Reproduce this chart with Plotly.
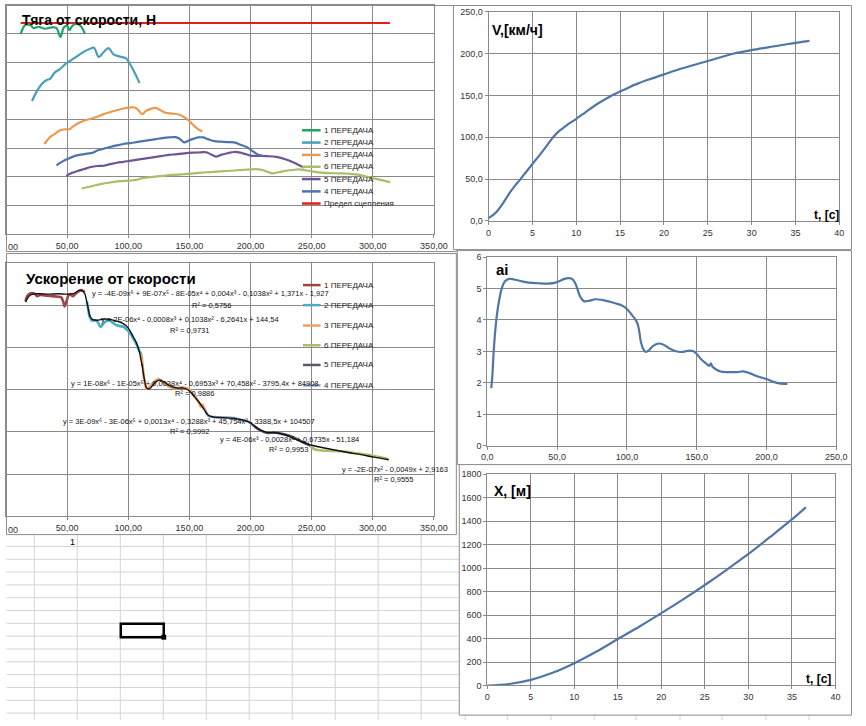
import plotly.graph_objects as go

W, H = 866, 726
FONT = "Liberation Sans"

# ---------------- Chart 1: Тяга от скорости, Н ----------------
grip_v = [12.0, 314.0]
grip_f = [7370, 7370]

f_v1 = [12.0, 16.0, 20.0, 22.6, 26.6, 32.0, 37.3, 41.3, 44.5, 47.4, 50.1, 51.9, 54.6, 58.1, 61.3, 64.5]
f_n1 = [6990, 7310, 7290, 7195, 7240, 7170, 7220, 7195, 6885, 7220, 7265, 7125, 7285, 7335, 7255, 6990]

f_v2 = [21.3, 25.3, 29.3, 33.3, 36.0, 40.0, 44.0, 49.3, 53.3, 58.6, 63.9, 67.9, 71.9, 75.9, 79.9, 83.9,
        87.9, 93.2, 98.0, 101.2, 104.4, 107.1, 109.2]
f_n2 = [4645, 4990, 5240, 5380, 5415, 5645, 5760, 5955, 6070, 6220, 6370, 6450, 6505, 6185, 6355, 6495,
        6275, 6195, 6140, 5955, 5700, 5470, 5275]

f_v3 = [31.4, 36.0, 40.0, 44.0, 47.9, 51.9, 54.6, 58.6, 63.9, 69.3, 74.6, 79.9, 85.2, 90.6, 95.9, 101.2,
        105.2, 107.9, 111.3, 114.5, 118.5, 122.5, 126.5, 130.5, 135.9, 141.2, 145.2, 149.2, 153.2, 157.2, 160.6]
f_n3 = [3140, 3380, 3495, 3610, 3655, 3655, 3745, 3860, 3955, 4025, 4090, 4185, 4255, 4320, 4380, 4415,
        4415, 4345, 4185, 4300, 4370, 4400, 4320, 4230, 4205, 4170, 4090, 3975, 3805, 3655, 3575]

f_v4 = [41.3, 45.3, 50.6, 55.9, 61.3, 66.6, 70.6, 74.6, 79.9, 85.2, 90.6, 95.9, 101.2, 106.6, 111.9, 117.2,
        122.5, 127.9, 133.2, 138.5, 141.7, 145.7, 149.2, 153.2, 157.2, 161.2, 165.2, 170.5, 175.8, 181.1,
        186.5, 191.8, 197.1, 201.1, 205.1, 210.4]
f_n4 = [2390, 2505, 2620, 2715, 2770, 2805, 2830, 2910, 2975, 3035, 3090, 3140, 3170, 3205, 3240, 3275,
        3310, 3345, 3370, 3380, 3335, 3195, 3255, 3320, 3370, 3370, 3310, 3240, 3220, 3205,
        3195, 3115, 3025, 2910, 2795, 2715]

f_v5 = [49.3, 53.3, 58.6, 63.9, 69.3, 74.6, 79.9, 85.2, 90.6, 95.9, 101.2, 106.6, 111.9, 117.2, 122.5,
        127.9, 133.2, 138.5, 143.8, 149.2, 154.5, 159.8, 163.8, 167.8, 171.8, 175.8, 181.1, 186.5, 190.5,
        194.5, 199.8, 206.4, 213.1, 221.1, 229.1, 235.7, 241.1, 243.7]
f_n5 = [2025, 2115, 2195, 2265, 2335, 2370, 2380, 2435, 2485, 2515, 2550, 2585, 2620, 2655, 2690,
        2725, 2760, 2780, 2805, 2830, 2840, 2850, 2850, 2770, 2700, 2760, 2815, 2860, 2850,
        2805, 2735, 2725, 2715, 2690, 2600, 2485, 2370, 2320]

f_v6 = [61.8, 69.3, 77.3, 85.2, 93.2, 101.2, 106.6, 111.9, 119.9, 127.9, 135.9, 143.8, 151.8, 159.8,
        167.8, 175.8, 183.8, 191.8, 199.8, 206.4, 210.4, 214.4, 218.4, 223.8, 229.1, 234.4, 239.7, 245.1,
        250.4, 255.7, 263.7, 271.7, 279.7, 287.7, 295.7, 303.7, 314.3]
f_n6 = [1585, 1655, 1735, 1795, 1840, 1860, 1885, 1945, 1990, 2025, 2060, 2080, 2105, 2140,
        2160, 2185, 2205, 2230, 2255, 2255, 2220, 2160, 2115, 2160, 2205, 2230, 2255, 2220,
        2185, 2150, 2125, 2115, 2105, 2070, 1990, 1910, 1805]

# ---------------- Chart 2: Ускорение от скорости ----------------
a_v1 = [16.0, 17.3, 20.0, 24.0, 25.3, 28.0, 32.0, 37.3, 42.6, 45.3, 46.9, 47.9, 49.5, 51.1, 52.7, 54.6,
        56.5, 59.1, 61.8, 64.5]
a_a1 = [5.10, 5.22, 5.29, 5.27, 5.22, 5.25, 5.24, 5.22, 5.21, 5.19, 5.08, 4.98, 5.10, 5.24, 5.27, 5.22,
        5.27, 5.33, 5.37, 5.32]

a_v2 = [66.1, 67.1, 68.7, 70.6, 73.3, 75.4, 77.3, 79.4, 82.0, 84.7, 87.4, 90.6, 93.8, 96.4, 99.1, 101.8,
        104.4, 107.1, 109.2, 110.8]
a_a2 = [5.10, 4.94, 4.71, 4.64, 4.65, 4.59, 4.49, 4.56, 4.63, 4.64, 4.59, 4.53, 4.51, 4.49, 4.42, 4.33,
        4.20, 4.06, 3.92, 3.84]

a_v3 = [110.8, 111.9, 113.2, 115.1, 117.2, 119.9, 122.5, 125.2, 127.9, 130.5, 133.2, 136.4, 139.8, 143.8,
        147.0, 149.7, 152.4, 155.0, 157.7, 159.3, 160.6, 162.0, 163.0]
a_a3 = [3.84, 3.53, 3.22, 3.02, 3.06, 3.15, 3.22, 3.25, 3.19, 3.14, 3.08, 3.04, 3.04, 3.06,
        3.04, 3.00, 2.92, 2.81, 2.71, 2.60, 2.65, 2.57, 2.51]

a_v4 = [163.0, 165.7, 170.5, 178.5, 186.5, 193.1, 198.5, 202.4]
a_a4 = [2.51, 2.38, 2.35, 2.34, 2.33, 2.27, 2.24, 2.15]

a_v5 = [202.4, 207.8, 213.1, 221.1, 229.1, 235.7, 242.4, 249.1]
a_a5 = [2.15, 2.04, 1.98, 1.98, 1.93, 1.86, 1.76, 1.67]

a_v6 = [249.1, 253.1, 258.4, 266.4, 274.4, 282.4, 290.4, 298.3, 306.3, 313.0]
a_a6 = [1.65, 1.58, 1.56, 1.55, 1.54, 1.51, 1.48, 1.44, 1.40, 1.35]

# polynomial trend lines (black)
t_v1 = [16.0, 20.0, 26.6, 34.6, 42.6, 50.6, 55.9, 59.9, 62.6, 64.7]
t_a1 = [5.08, 5.25, 5.28, 5.27, 5.28, 5.27, 5.29, 5.36, 5.34, 5.27]
t_v2 = [64.7, 66.6, 68.7, 70.6, 74.6, 79.9, 85.2, 90.6, 95.9, 99.9, 103.9, 106.6, 109.2, 111.3]
t_a2 = [5.27, 5.02, 4.75, 4.67, 4.65, 4.68, 4.67, 4.63, 4.57, 4.47, 4.27, 4.12, 3.88, 3.57]
t_v3 = [111.3, 113.2, 115.1, 117.2, 119.9, 123.1, 125.7, 129.2, 133.2, 137.2, 141.2, 145.2, 148.6,
        151.8, 155.8, 159.3, 162.5]
t_a3 = [3.61, 3.25, 3.04, 3.02, 3.10, 3.20, 3.23, 3.19, 3.11, 3.06, 3.04, 3.04, 3.00,
        2.92, 2.78, 2.65, 2.51]
t_v4 = [162.5, 165.7, 170.5, 178.5, 186.5, 193.1, 198.5, 202.4]
t_a4 = [2.51, 2.39, 2.35, 2.34, 2.32, 2.29, 2.24, 2.16]
t_v5 = [202.4, 207.8, 213.1, 221.1, 229.1, 235.7, 242.4, 249.1]
t_a5 = [2.16, 2.05, 1.99, 1.98, 1.92, 1.84, 1.76, 1.69]
t_v6 = [249.1, 258.4, 269.0, 279.7, 290.4, 301.0, 313.0]
t_a6 = [1.69, 1.63, 1.57, 1.51, 1.46, 1.40, 1.34]

eq_texts = [
    "y = -4E-09x⁶ + 9E-07x⁵ - 8E-05x⁴ + 0,004x³ - 0,1038x² + 1,371x - 1,927",
    "y = 2E-06x⁴ - 0,0008x³ + 0,1038x² - 6,2641x + 144,54",
    "y = 1E-08x⁶ - 1E-05x⁵ + 0,0038x⁴ - 0,6953x³ + 70,458x² - 3795,4x + 84908",
    "y = 3E-09x⁶ - 3E-06x⁵ + 0,0013x⁴ - 0,3288x³ + 45,754x² - 3388,5x + 104507",
    "y = 4E-06x³ - 0,0028x² + 0,6735x - 51,184",
    "y = -2E-07x² - 0,0049x + 2,9163",
]
r2_texts = ["R² = 0,5756", "R² = 0,9731", "R² = 0,9886", "R² = 0,9992", "R² = 0,9953", "R² = 0,9555"]

# ---------------- Chart 3: V(t) ----------------
vt_t = [0, 0.5, 1, 1.5, 2, 2.5, 3, 3.64, 4, 5, 6, 7, 7.36, 8, 8.5, 9, 10, 11, 12, 13, 14, 15, 16, 17,
        18, 19, 20, 22, 24, 26, 28, 30, 32, 34, 36.6]
vt_v = [3.5, 7, 12, 19, 27, 35, 42, 50, 55, 68, 81, 95, 100, 107, 111, 115, 122, 129.5, 137, 143.5,
        149.5, 154.5, 159.5, 164, 168, 171.5, 175, 182, 188, 194, 200, 204, 207.5, 211, 215]

# ---------------- Chart 4: ai(V) ----------------
ai_v = [2.8, 3.5, 4.4, 5.6, 6.8, 8.6, 10.5, 12.8, 15.6, 19.1, 23.8, 29.6, 36.6, 43.6, 48.3, 51.7, 55.2,
        58.7, 61.1, 63.4, 65.0, 66.9, 69.2, 72.7, 77.4, 82.1, 87.9, 92.5, 96.0, 99.5, 103.0, 106.1, 107.7,
        108.9, 110.0, 111.7, 113.5, 115.9, 118.6, 122.8, 126.3, 129.8, 134.5, 139.2, 143.8, 147.3, 149.7,
        153.1, 156.6, 159.0, 160.1, 161.3, 163.6, 167.1, 171.8, 178.8, 183.4, 188.1, 193.9, 199.8, 205.6,
        210.3, 214.9]
ai_a = [1.83, 2.15, 2.88, 3.61, 4.14, 4.66, 5.03, 5.24, 5.31, 5.29, 5.24, 5.19, 5.17, 5.16, 5.18, 5.24,
        5.31, 5.33, 5.29, 5.13, 4.92, 4.71, 4.60, 4.61, 4.66, 4.64, 4.58, 4.52, 4.47, 4.37, 4.19, 4.01, 3.87,
        3.61, 3.30, 3.07, 2.98, 3.04, 3.17, 3.25, 3.21, 3.11, 3.01, 2.98, 3.02, 3.01, 2.93,
        2.75, 2.62, 2.54, 2.62, 2.51, 2.43, 2.36, 2.34, 2.34, 2.36, 2.30, 2.20, 2.12, 2.02,
        1.97, 1.96]

# ---------------- Chart 5: X(t) ----------------
xt_t = [0, 2.5, 5, 7.5, 10, 12.5, 15, 17.5, 20, 22.5, 25, 27.5, 30, 32.5, 35, 36.6]
xt_x = [0, 13, 48, 108, 190, 287, 396, 503, 616, 733, 856, 985, 1120, 1265, 1414, 1517]

# tick values of the two left charts (the 0 label is cut by the window edge)
left_ticks = [50, 100, 150, 200, 250, 300, 350]

legend1_names = ["1 ПЕРЕДАЧА", "2 ПЕРЕДАЧА", "3 ПЕРЕДАЧА", "6 ПЕРЕДАЧА", "5 ПЕРЕДАЧА", "4 ПЕРЕДАЧА",
                 "Предел сцепления"]
legend2_names = ["1 ПЕРЕДАЧА", "2 ПЕРЕДАЧА", "3 ПЕРЕДАЧА", "6 ПЕРЕДАЧА", "5 ПЕРЕДАЧА", "4 ПЕРЕДАЧА"]

# colours
C1 = {"g1": "#22a266", "g2": "#4a9fb8", "g3": "#eb9a52", "g4": "#4e73ad", "g5": "#6e5694",
      "g6": "#a8be68", "grip": "#e0201e"}
C2 = {"g1": "#a04444", "g2": "#4bacc6", "g3": "#f0a060", "g4": "#8aa2c4", "g5": "#5e5672",
      "g6": "#a9bd6a"}
LINE_BLUE = "#4f76a6"
GRID = "#8a8a8a"


def px(x):
    return x / W


def py(y):
    return 1 - y / H


fig = go.Figure()

# chart 1 traces
for vx, fy, col in [(grip_v, grip_f, C1["grip"]), (f_v6, f_n6, C1["g6"]), (f_v5, f_n5, C1["g5"]),
                    (f_v4, f_n4, C1["g4"]), (f_v3, f_n3, C1["g3"]), (f_v2, f_n2, C1["g2"]),
                    (f_v1, f_n1, C1["g1"])]:
    fig.add_trace(go.Scatter(x=vx, y=fy, mode="lines", line=dict(color=col, width=2.2, shape="spline"),
                             xaxis="x", yaxis="y", showlegend=False, hoverinfo="skip"))

# chart 2 traces
for vx, ay, col in [(a_v1, a_a1, C2["g1"]), (a_v2, a_a2, C2["g2"]), (a_v3, a_a3, C2["g3"]),
                    (a_v4, a_a4, C2["g4"]), (a_v5, a_a5, C2["g5"]), (a_v6, a_a6, C2["g6"])]:
    fig.add_trace(go.Scatter(x=vx, y=ay, mode="lines", line=dict(color=col, width=2.6, shape="spline"),
                             xaxis="x2", yaxis="y2", showlegend=False, hoverinfo="skip"))
for vx, ay in [(t_v1, t_a1), (t_v2, t_a2), (t_v3, t_a3), (t_v4, t_a4), (t_v5, t_a5), (t_v6, t_a6)]:
    fig.add_trace(go.Scatter(x=vx, y=ay, mode="lines", line=dict(color="#111111", width=1.4, shape="spline"),
                             xaxis="x2", yaxis="y2", showlegend=False, hoverinfo="skip"))

# chart 3-5
fig.add_trace(go.Scatter(x=vt_t, y=vt_v, mode="lines", line=dict(color=LINE_BLUE, width=2.2, shape="spline"),
                         xaxis="x3", yaxis="y3", showlegend=False, hoverinfo="skip"))
fig.add_trace(go.Scatter(x=ai_v, y=ai_a, mode="lines", line=dict(color=LINE_BLUE, width=2.2, shape="spline"),
                         xaxis="x4", yaxis="y4", showlegend=False, hoverinfo="skip"))
fig.add_trace(go.Scatter(x=xt_t, y=xt_x, mode="lines", line=dict(color=LINE_BLUE, width=2.2, shape="spline"),
                         xaxis="x5", yaxis="y5", showlegend=False, hoverinfo="skip"))

shapes = []
# spreadsheet grid (behind charts)
SHEET = "#d4d4d4"
for cx in [29, 73, 117, 161, 205, 249, 293, 337, 381, 425]:
    shapes.append(dict(type="line", xref="paper", yref="paper", x0=px(cx), x1=px(cx), y0=py(537), y1=py(725),
                       line=dict(color=SHEET, width=1), layer="below"))
ry = 549
while ry < 726:
    shapes.append(dict(type="line", xref="paper", yref="paper", x0=px(0.5), x1=px(464), y0=py(ry), y1=py(ry),
                       line=dict(color=SHEET, width=1), layer="below"))
    ry += 13
for cx in [470, 513, 558, 602, 645, 690, 733, 778, 822]:
    shapes.append(dict(type="line", xref="paper", yref="paper", x0=px(cx), x1=px(cx), y0=py(719), y1=py(725),
                       line=dict(color=SHEET, width=1), layer="below"))

# chart frames
for x0, y0, x1, y1 in [(0.5, 0.5, 461, 250), (0.5, 252, 461, 537), (458, 0.5, 865.5, 248),
                       (462, 249, 865.5, 466), (464, 466, 865.5, 720)]:
    shapes.append(dict(type="rect", xref="paper", yref="paper", x0=px(x0), x1=px(x1), y0=py(y1), y1=py(y0),
                       line=dict(color="#8c8c8c", width=1), fillcolor="white", layer="below"))

# selected cell
shapes.append(dict(type="rect", xref="paper", yref="paper", x0=px(117.5), x1=px(161.5), y0=py(641), y1=py(627.5),
                   line=dict(color="#000000", width=2.5)))
shapes.append(dict(type="rect", xref="paper", yref="paper", x0=px(159), x1=px(164), y0=py(643.5), y1=py(638.5),
                   line=dict(color="#000000", width=0), fillcolor="#000000"))

annotations = []


def ann(text, x, y, size, anchor="center", color="#000000", family=FONT):
    annotations.append(dict(text=text, x=px(x), y=py(y), xref="paper", yref="paper", xanchor=anchor,
                            yanchor="middle", showarrow=False, font=dict(size=size, family=family, color=color)))


# legends (manual)
leg1_cols = [C1["g1"], C1["g2"], C1["g3"], C1["g6"], C1["g5"], C1["g4"], C1["grip"]]
leg1_y = [127, 139.5, 152, 164, 176.5, 189, 201.3]
for name, col, yy in zip(legend1_names, leg1_cols, leg1_y):
    shapes.append(dict(type="line", xref="paper", yref="paper", x0=px(303), x1=px(322), y0=py(yy), y1=py(yy),
                       line=dict(color=col, width=2.5)))
    ann(name, 323, yy, 8, anchor="left", color="#222222")

leg2_cols = [C2["g1"], C2["g2"], C2["g3"], C2["g6"], C2["g5"], C2["g4"]]
leg2_y = [284, 304.3, 325, 345, 365, 385.7]
for name, col, yy in zip(legend2_names, leg2_cols, leg2_y):
    shapes.append(dict(type="line", xref="paper", yref="paper", x0=px(304), x1=px(322), y0=py(yy), y1=py(yy),
                       line=dict(color=col, width=2.5)))
    ann(name, 323, yy, 8, anchor="left", color="#222222")

# titles
ann("<b>Тяга от скорости, Н</b>", 14, 15, 14, anchor="left")
ann("<b>Ускорение от скорости</b>", 18, 277, 15, anchor="left")
ann("<b>V,[км/ч]</b>", 495, 25, 14, anchor="left")
ann("<b>t, [c]</b>", 825, 213, 12, anchor="left")
ann("<b>ai</b>", 500, 268, 15, anchor="left")
ann("<b>X, [м]</b>", 498, 493, 14, anchor="left")
ann("<b>t, [c]</b>", 817, 683, 12, anchor="left")

# trendline equations
eq_pos = [(209, 292.7, 210, 304.3), (188, 319, 188, 330), (193, 383.3, 193, 394),
          (187, 422.3, 188, 432.7), (290, 440.7, 289, 451), (398, 471, 397, 480.7)]
for t, r, (ex, ey, rx, ry2) in zip(eq_texts, r2_texts, eq_pos):
    ann(t, ex, ey, 7.5, color="#111111")
    ann(r, rx, ry2, 7.5, color="#111111")

# visible remains of the cut "0,00" labels and the cell value
ann("00", 0, 245, 9, anchor="left", color="#333333")
ann("00", 0, 532, 9, anchor="left", color="#333333")
ann("1", 68, 544, 9)

TICKF = dict(size=9, family=FONT, color="#333333")


def ax(domain, rng, dtick, fmt=None, labels=True, ticks="outside", tickvals=None):
    d = dict(domain=domain, range=rng, dtick=dtick, tick0=0, showgrid=True, gridcolor=GRID, gridwidth=1,
             showline=True, linecolor=GRID, linewidth=1, mirror=True, zeroline=False,
             ticks=ticks, ticklen=3, tickcolor=GRID, tickfont=TICKF, showticklabels=labels,
             fixedrange=True)
    if fmt:
        d["tickformat"] = fmt
    if tickvals is not None:
        d["tickvals"] = tickvals
    return d


layout = dict(
    width=W, height=H, margin=dict(l=0, r=0, t=0, b=0),
    paper_bgcolor="white", plot_bgcolor="rgba(0,0,0,0)",
    separators=", ", showlegend=False,
    xaxis=ax([0, px(438)], [0, 350], 50, ".2f", tickvals=left_ticks),
    yaxis=ax([py(232), 1.0], [0, 8000], 1000, labels=False, ticks=""),
    xaxis2=ax([0, px(438)], [0, 350], 50, ".2f", tickvals=left_ticks),
    yaxis2=ax([py(518.3), py(262)], [0, 6], 1, labels=False, ticks=""),
    xaxis3=ax([px(494), px(853)], [0, 40], 5),
    yaxis3=ax([py(219), py(6.7)], [0, 250], 50, ".1f"),
    xaxis4=ax([px(492.7), px(850)], [0, 250], 50, ".1f"),
    yaxis4=ax([py(446.7), py(255.7)], [0, 6], 1),
    xaxis5=ax([px(492.7), px(849)], [0, 40], 5),
    yaxis5=ax([py(690), py(475.7)], [0, 1800], 200, "d"),
    shapes=shapes, annotations=annotations,
)
for i in range(1, 6):
    s = "" if i == 1 else str(i)
    layout["xaxis" + s]["anchor"] = "y" + s
    layout["yaxis" + s]["anchor"] = "x" + s

fig.update_layout(**layout)

POST = (
    "var de=document.documentElement, b=document.body;"
    "[de,b].forEach(function(e){e.style.margin='0';e.style.padding='0';e.style.overflow='hidden';});"
)
fig.write_html("out.html", config={"staticPlot": True, "displayModeBar": False}, post_script=POST)
